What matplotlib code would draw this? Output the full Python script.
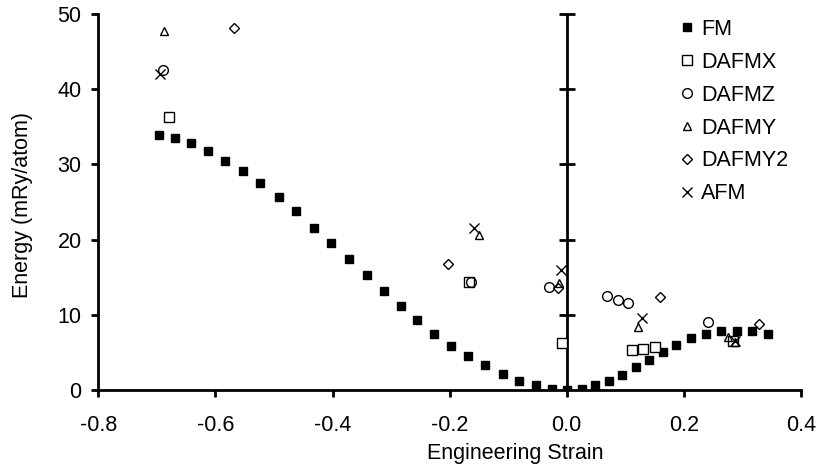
import numpy as np
import matplotlib
matplotlib.use("Agg")
import matplotlib.pyplot as plt

plt.rcParams['font.family'] = ['Liberation Sans', 'DejaVu Sans']
plt.rcParams['axes.unicode_minus'] = False

# data (engineering strain, energy in mRy/atom)
fm_x = [-0.696, -0.669, -0.641, -0.612, -0.583, -0.553, -0.523, -0.492, -0.462,
        -0.432, -0.402, -0.371, -0.341, -0.312, -0.283, -0.255, -0.226, -0.197,
        -0.168, -0.139, -0.109, -0.081, -0.052, -0.025, 0.0, 0.026, 0.049, 0.072,
        0.094, 0.119, 0.140, 0.164, 0.187, 0.213, 0.238, 0.263, 0.290, 0.317, 0.344]
fm_y = [33.9, 33.5, 32.8, 31.8, 30.5, 29.1, 27.5, 25.7, 23.8,
        21.6, 19.5, 17.4, 15.3, 13.2, 11.2, 9.3, 7.5, 5.9,
        4.5, 3.3, 2.1, 1.2, 0.66, 0.17, 0.0, 0.13, 0.6, 1.2,
        2.0, 3.0, 4.0, 5.1, 6.0, 6.9, 7.4, 7.8, 7.9, 7.8, 7.4]

dafmx_x = [-0.679, -0.167, -0.008, 0.112, 0.131, 0.151, 0.284]
dafmx_y = [36.3, 14.4, 6.3, 5.3, 5.5, 5.7, 6.5]

dafmz_x = [-0.690, -0.164, -0.030, 0.068, 0.087, 0.105, 0.242]
dafmz_y = [42.5, 14.3, 13.7, 12.5, 12.0, 11.5, 9.0]

dafmy_x = [-0.688, -0.149, -0.014, 0.122, 0.276, 0.287]
dafmy_y = [47.8, 20.6, 14.2, 8.4, 7.0, 6.4]

dafmy2_x = [-0.568, -0.202, -0.015, 0.160, 0.329]
dafmy2_y = [48.1, 16.7, 13.5, 12.3, 8.8]

afm_x = [-0.694, -0.159, -0.009, 0.128, 0.287]
afm_y = [42.0, 21.6, 15.9, 9.6, 6.5]

x_ticks = [-0.8, -0.6, -0.4, -0.2, 0.0, 0.2, 0.4]
y_ticks = [0, 10, 20, 30, 40, 50]

fig = plt.figure(figsize=(8.19, 4.67), dpi=100)
ax = fig.add_axes([0.12, 0.165, 0.858, 0.805])

fs = 15.5
lw = 2.0

# vertical axis line through zero strain, with crossing ticks
ax.axvline(0, color='black', lw=lw, zorder=1)
ax.plot([0] * len(y_ticks[1:]), y_ticks[1:], ls='none', marker='_',
        ms=11.5, mew=lw, color='black', zorder=1, clip_on=False)

ax.plot(fm_x, fm_y, ls='none', marker='s', ms=6, color='black', label='FM', zorder=3)
ax.plot(dafmx_x, dafmx_y, ls='none', marker='s', ms=7, mfc='white', mec='black',
        mew=1.0, label='DAFMX', zorder=3)
ax.plot(dafmz_x, dafmz_y, ls='none', marker='o', ms=7, mfc='none', mec='black',
        mew=1.0, label='DAFMZ', zorder=3)
ax.plot(dafmy_x, dafmy_y, ls='none', marker='^', ms=5.5, mfc='none', mec='black',
        mew=1.0, label='DAFMY', zorder=3)
ax.plot(dafmy2_x, dafmy2_y, ls='none', marker='D', ms=5, mfc='none', mec='black',
        mew=1.0, label='DAFMY2', zorder=3)
ax.plot(afm_x, afm_y, ls='none', marker='x', ms=7, color='black', mew=1.0,
        label='AFM', zorder=3)

ax.set_xlim(-0.8, 0.4)
ax.set_ylim(0, 50)
ax.set_xticks(x_ticks)
ax.set_xticklabels(['%.1f' % v for v in x_ticks])
ax.set_yticks(y_ticks)

for s in ['top', 'right']:
    ax.spines[s].set_visible(False)
for s in ['left', 'bottom']:
    ax.spines[s].set_linewidth(lw)
ax.tick_params(axis='both', direction='out', length=5, width=lw, labelsize=fs)
ax.tick_params(axis='y', pad=7)
ax.tick_params(axis='x', pad=13)

ax.set_xlabel('Engineering Strain', fontsize=fs)
ax.set_ylabel('Energy (mRy/atom)', fontsize=fs)
ax.xaxis.set_label_coords(0.593, -0.14)
ax.yaxis.set_label_coords(-0.093, 0.492)

leg = ax.legend(loc='upper left', bbox_to_anchor=(681 / 819, 1 - 19 / 467),
                bbox_transform=fig.transFigure, frameon=False, fontsize=fs,
                handlelength=0.6, handletextpad=0.35, labelspacing=0.55,
                borderaxespad=0, borderpad=0)

fig.savefig('out.png', dpi=100)
